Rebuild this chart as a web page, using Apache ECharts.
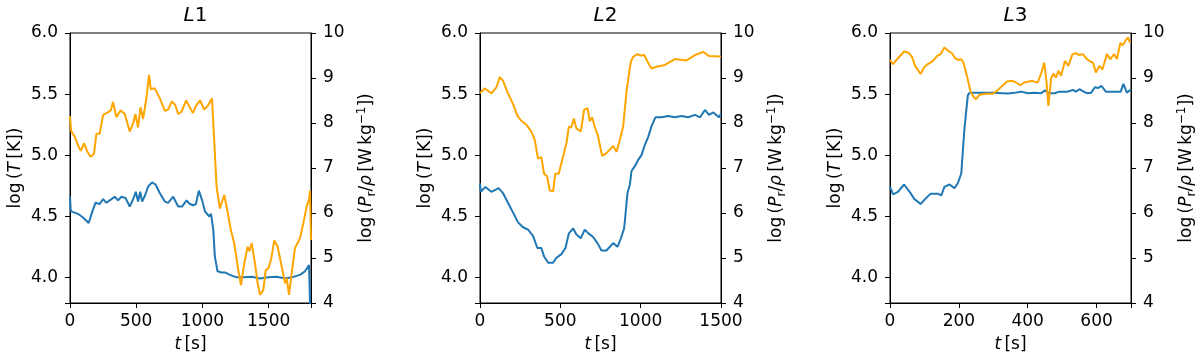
<!DOCTYPE html>
<html>
<head>
<meta charset="utf-8">
<script src="https://cdn.jsdelivr.net/npm/echarts@6/dist/echarts.min.js"></script>
<style>
  html, body { margin: 0; padding: 0; background: #fff; }
  #chart { width: 1200px; height: 359px; }
</style>
</head>
<body>
<div id="chart"></div>
<script>
// panel titles and x ranges
const panelNames = ['L1', 'L2', 'L3']
const tMax = [1820, 1500, 700]
const tStep = [500, 500, 200]

// L1: temperature log(T) and radiative loss log(Pr/rho)
const l1TempT = [0, 5, 10, 60, 98, 141, 166, 192, 224, 250, 275, 300, 338, 363, 388, 419, 451, 477, 497, 514, 530, 545, 570, 590, 620, 646, 678, 716, 741, 779, 817, 847, 880, 905, 930, 951, 973, 998, 1019, 1035, 1050, 1065, 1082, 1094, 1114, 1143, 1170, 1208, 1258, 1315, 1372, 1435, 1498, 1561, 1624, 1674, 1737, 1775, 1805, 1818, 1820]
const l1Temp = [4.66, 4.56, 4.54, 4.52, 4.49, 4.445, 4.53, 4.61, 4.60, 4.64, 4.61, 4.63, 4.66, 4.63, 4.66, 4.65, 4.58, 4.64, 4.70, 4.62, 4.70, 4.62, 4.68, 4.744, 4.777, 4.76, 4.69, 4.62, 4.61, 4.66, 4.58, 4.58, 4.63, 4.60, 4.59, 4.60, 4.71, 4.63, 4.54, 4.52, 4.50, 4.52, 4.39, 4.17, 4.05, 4.04, 4.04, 4.02, 4.00, 4.00, 4.005, 3.99, 4.00, 4.005, 3.99, 4.00, 4.02, 4.05, 4.10, 4.11, 3.5]
const l1PowT = [0, 5, 10, 35, 60, 81, 106, 131, 156, 181, 199, 224, 250, 282, 308, 325, 350, 383, 414, 451, 477, 494, 514, 532, 552, 577, 597, 610, 640, 678, 716, 741, 769, 795, 817, 842, 877, 928, 955, 983, 1013, 1040, 1072, 1089, 1107, 1132, 1165, 1190, 1215, 1240, 1271, 1291, 1316, 1341, 1355, 1372, 1397, 1417, 1435, 1460, 1478, 1498, 1518, 1543, 1568, 1594, 1624, 1637, 1654, 1674, 1699, 1737, 1762, 1787, 1805, 1813, 1820]
const l1Pow = [8.15, 7.95, 7.81, 7.70, 7.51, 7.38, 7.55, 7.36, 7.25, 7.31, 7.76, 7.76, 8.18, 8.23, 8.28, 8.47, 8.13, 8.28, 8.20, 7.81, 8.00, 8.20, 7.90, 8.35, 8.09, 8.55, 9.07, 8.75, 8.77, 8.55, 8.27, 8.30, 8.48, 8.40, 8.20, 8.25, 8.50, 8.22, 8.40, 8.50, 8.30, 8.38, 8.55, 7.62, 6.58, 6.10, 6.40, 6.03, 5.62, 5.33, 4.73, 4.40, 4.88, 5.25, 5.15, 5.33, 4.88, 4.44, 4.18, 4.29, 4.73, 4.77, 4.96, 5.39, 5.25, 4.88, 4.44, 4.55, 4.18, 4.66, 5.22, 5.44, 5.77, 6.14, 6.29, 6.50, 5.40]

// L2
const l2TempT = [0, 5, 33, 71, 116, 143, 174, 206, 237, 268, 299, 330, 357, 382, 399, 424, 455, 476, 507, 532, 553, 580, 600, 627, 652, 675, 704, 731, 756, 787, 829, 856, 877, 897, 918, 933, 943, 964, 984, 1005, 1026, 1047, 1067, 1092, 1130, 1171, 1213, 1254, 1296, 1338, 1370, 1400, 1425, 1452, 1487, 1500]
const l2Temp = [4.77, 4.70, 4.74, 4.70, 4.73, 4.69, 4.61, 4.53, 4.45, 4.41, 4.39, 4.34, 4.24, 4.24, 4.17, 4.12, 4.12, 4.16, 4.19, 4.24, 4.36, 4.40, 4.35, 4.32, 4.39, 4.36, 4.33, 4.28, 4.22, 4.22, 4.28, 4.25, 4.32, 4.40, 4.69, 4.76, 4.87, 4.91, 4.96, 5.00, 5.085, 5.15, 5.235, 5.31, 5.31, 5.32, 5.31, 5.32, 5.31, 5.33, 5.31, 5.37, 5.33, 5.35, 5.31, 5.34]
const l2PowT = [0, 4, 29, 71, 102, 123, 143, 174, 206, 233, 257, 289, 320, 341, 361, 382, 399, 417, 434, 455, 469, 490, 517, 538, 553, 568, 584, 600, 627, 648, 669, 683, 698, 714, 735, 760, 787, 829, 850, 870, 891, 912, 927, 939, 953, 980, 1001, 1022, 1043, 1067, 1099, 1151, 1213, 1286, 1338, 1390, 1425, 1493, 1500]
const l2Pow = [8.66, 8.62, 8.77, 8.66, 8.79, 9.02, 8.94, 8.66, 8.42, 8.16, 8.05, 7.96, 7.81, 7.62, 7.21, 7.24, 6.87, 6.82, 6.50, 6.48, 6.88, 6.87, 7.25, 7.55, 7.92, 7.90, 8.10, 7.88, 7.81, 8.29, 8.33, 8.04, 8.13, 7.92, 7.70, 7.27, 7.33, 7.49, 7.36, 7.62, 7.92, 8.70, 9.09, 9.36, 9.47, 9.53, 9.50, 9.51, 9.36, 9.21, 9.25, 9.29, 9.42, 9.39, 9.51, 9.58, 9.49, 9.48, 9.47]

// L3
const l3TempT = [0, 9, 23, 41, 57, 71, 89, 102, 118, 139, 149, 158, 173, 187, 197, 207, 216, 226, 231, 260, 300, 342, 361, 381, 400, 420, 439, 450, 462, 478, 492, 516, 531, 540, 550, 560, 572, 584, 595, 605, 614, 627, 640, 663, 670, 678, 688, 698, 700]
const l3Temp = [4.74, 4.68, 4.70, 4.76, 4.70, 4.64, 4.60, 4.64, 4.685, 4.685, 4.67, 4.74, 4.76, 4.73, 4.77, 4.85, 5.21, 5.49, 5.51, 5.51, 5.51, 5.505, 5.51, 5.52, 5.507, 5.51, 5.507, 5.53, 5.507, 5.507, 5.52, 5.52, 5.534, 5.52, 5.54, 5.525, 5.507, 5.51, 5.556, 5.55, 5.567, 5.52, 5.52, 5.52, 5.52, 5.583, 5.512, 5.534, 5.53]
const l3PowT = [0, 9, 23, 41, 54, 64, 73, 89, 99, 110, 125, 137, 147, 158, 168, 180, 189, 199, 207, 214, 224, 234, 243, 250, 260, 279, 299, 313, 328, 340, 354, 366, 379, 390, 402, 412, 420, 429, 439, 448, 454, 460, 468, 475, 482, 489, 497, 508, 518, 530, 540, 550, 560, 572, 583, 590, 598, 608, 617, 630, 640, 651, 659, 669, 676, 684, 691, 698]
const l3Pow = [9.40, 9.31, 9.44, 9.59, 9.56, 9.47, 9.27, 9.09, 9.24, 9.31, 9.38, 9.49, 9.53, 9.68, 9.61, 9.55, 9.44, 9.40, 9.42, 9.33, 9.03, 8.70, 8.58, 8.53, 8.63, 8.65, 8.65, 8.73, 8.84, 8.92, 8.94, 8.90, 8.84, 8.90, 8.92, 8.94, 8.92, 8.90, 9.10, 9.34, 8.96, 8.38, 8.99, 9.10, 9.01, 9.16, 9.05, 9.38, 9.27, 9.53, 9.55, 9.51, 9.53, 9.42, 9.36, 9.34, 9.12, 9.27, 9.19, 9.53, 9.42, 9.53, 9.42, 9.78, 9.73, 9.83, 9.90, 9.78]

const tempTimes = [l1TempT, l2TempT, l3TempT]
const temps = [l1Temp, l2Temp, l3Temp]
const powTimes = [l1PowT, l2PowT, l3PowT]
const pows = [l1Pow, l2Pow, l3Pow]

const FONT = 'DejaVu Sans'
const FS = 17
const zip = (xs, ys) => xs.map((x, i) => [x, ys[i]])
const gridLeft = [70, 480, 890]

const grids = []
const xAxes = []
const yAxes = []
const series = []
const titles = []

gridLeft.forEach((left, i) => {
  grids.push({
    left: left, top: 33, width: 241, height: 270,
    show: true, borderColor: '#000', borderWidth: 1, backgroundColor: 'transparent'
  })
  titles.push({
    text: '{i|L}' + panelNames[i].slice(1),
    left: left + 120.5, top: 1, textAlign: 'center',
    textStyle: {
      fontFamily: FONT, fontSize: 20, fontWeight: 'normal', color: '#000',
      rich: { i: { fontFamily: FONT, fontSize: 20, fontStyle: 'italic', color: '#000' } }
    }
  })
  xAxes.push({
    gridIndex: i, type: 'value', min: 0, max: tMax[i], interval: tStep[i],
    name: '{i|t}\u2009[s]', nameLocation: 'middle', nameGap: 33,
    nameTextStyle: {
      fontFamily: FONT, fontSize: FS, color: '#000',
      rich: { i: { fontFamily: FONT, fontSize: FS, fontStyle: 'italic', color: '#000' } }
    },
    axisLine: { show: true, lineStyle: { color: '#000', width: 1 } },
    axisTick: { show: true, length: 5, lineStyle: { color: '#000' } },
    axisLabel: {
      fontFamily: FONT, fontSize: FS, color: '#000', margin: 10,
      formatter: v => (v % tStep[i] === 0 ? String(v) : '')
    },
    splitLine: { show: false }
  })
  yAxes.push({
    gridIndex: i, type: 'value', position: 'left', min: 3.79, max: 6.0,
    name: 'log\u2009({i|T}\u2009[K])', nameLocation: 'middle', nameGap: 46, nameRotate: 90,
    nameTextStyle: {
      fontFamily: FONT, fontSize: FS, color: '#000',
      rich: { i: { fontFamily: FONT, fontSize: FS, fontStyle: 'italic', color: '#000' } }
    },
    axisLine: { show: true, lineStyle: { color: '#000', width: 1 } },
    axisTick: { show: true, length: 5, lineStyle: { color: '#000' } },
    axisLabel: {
      fontFamily: FONT, fontSize: FS, color: '#000', margin: 12,
      formatter: v => (Math.abs(v * 2 - Math.round(v * 2)) < 1e-6 ? v.toFixed(1) : '')
    },
    splitLine: { show: false }
  })
  yAxes.push({
    gridIndex: i, type: 'value', position: 'right', min: 4, max: 10, interval: 1,
    name: 'log\u2009({i|P}{sub|r}/{i|ρ}\u2009[W\u2009kg{sup|−1}])',
    nameLocation: 'middle', nameGap: 45, nameRotate: 90,
    nameTextStyle: {
      fontFamily: FONT, fontSize: FS, color: '#000', lineHeight: 22,
      rich: {
        i: { fontFamily: FONT, fontSize: FS, fontStyle: 'italic', color: '#000', lineHeight: 22 },
        sub: { fontFamily: FONT, fontSize: 12, color: '#000', lineHeight: 13, verticalAlign: 'bottom' },
        sup: { fontFamily: FONT, fontSize: 12, color: '#000', lineHeight: 13, verticalAlign: 'top' }
      }
    },
    axisLine: { show: true, lineStyle: { color: '#000', width: 1 } },
    axisTick: { show: true, length: 5, lineStyle: { color: '#000' } },
    axisLabel: { fontFamily: FONT, fontSize: FS, color: '#000', margin: 12 },
    splitLine: { show: false }
  })
  series.push({
    type: 'line', xAxisIndex: i, yAxisIndex: i * 2,
    data: zip(tempTimes[i], temps[i]),
    showSymbol: false, clip: true,
    lineStyle: { color: '#1f77b4', width: 2 }, itemStyle: { color: '#1f77b4' }
  })
  series.push({
    type: 'line', xAxisIndex: i, yAxisIndex: i * 2 + 1,
    data: zip(powTimes[i], pows[i]),
    showSymbol: false, clip: true,
    lineStyle: { color: '#ffa500', width: 2 }, itemStyle: { color: '#ffa500' }
  })
})

const chart = echarts.init(document.getElementById('chart'))
chart.setOption({
  animation: false,
  backgroundColor: '#fff',
  title: titles,
  grid: grids,
  xAxis: xAxes,
  yAxis: yAxes,
  series: series
})
</script>
</body>
</html>
